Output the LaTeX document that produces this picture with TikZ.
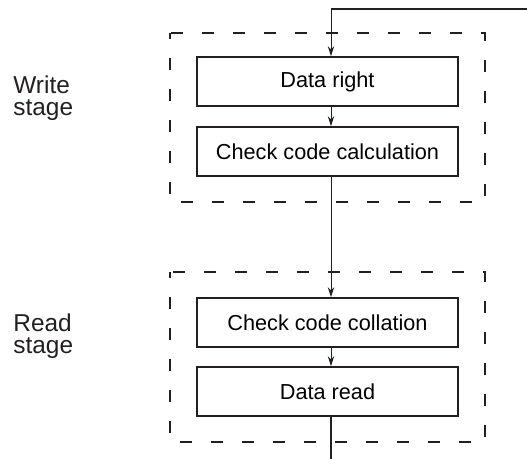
\documentclass[tikz,border=0pt]{standalone}
\usepackage{fontspec}
\setmainfont{Liberation Sans}
\usetikzlibrary{arrows.meta}
\definecolor{lineGray}{RGB}{35, 31, 32}

\begin{document}
\begin{tikzpicture}[x=0.5pt, y=-0.5pt,
    stepbox/.style={draw=lineGray, line width=0.85pt, minimum width=130.5pt,
      minimum height=24.5pt, inner sep=0pt, font=\fontsize{10.85}{13}\selectfont},
    stagebox/.style={draw=lineGray, line width=0.9pt, dash pattern=on 6pt off 9.5pt, dash phase=3pt},
    flow/.style={draw=lineGray, line width=0.45pt, -{Stealth[length=5pt, width=3.2pt]}},
    stagelabel/.style={anchor=north west, inner sep=0pt, align=left, text=lineGray,
      font=\fontsize{12.2}{11}\selectfont}]
      \useasboundingbox (0,0) rectangle (527,459);
      \draw[stagebox] (170,33) rectangle (485,202);
      \draw[stagebox] (170,272) rectangle (485,442);
      \node[stagelabel] (writeLabel) at (13,75) {Write\\stage};
      \node[stagelabel] (readLabel) at (13,313) {Read\\stage};
      \node[stepbox] (dataRight) at (327.5,81.5) {Data right};
      \node[stepbox] (checkCalc) at (327.5,151.5) {Check code calculation};
      \node[stepbox] (checkColl) at (327.5,322.5) {Check code collation};
      \node[stepbox] (dataRead) at (327.5,391.5) {Data read};
      \coordinate (inStart) at (527,9.3);
      \coordinate (inBend) at (331,9.3);
      \coordinate (outEnd) at (331,459);
      \draw[lineGray, line width=0.85pt] (inStart) -- ([xshift=-0.2pt]inBend);
      \draw[flow] (inBend) -- (inBend |- dataRight.north);
      \draw[flow] (dataRight.south -| inBend) -- (checkCalc.north -| inBend);
      \draw[flow] (checkCalc.south -| inBend) -- (checkColl.north -| inBend);
      \draw[flow] (checkColl.south -| inBend) -- (dataRead.north -| inBend);
      \draw[lineGray, line width=0.85pt] (dataRead.south -| inBend) -- (outEnd);
    \end{tikzpicture}
\end{document}
